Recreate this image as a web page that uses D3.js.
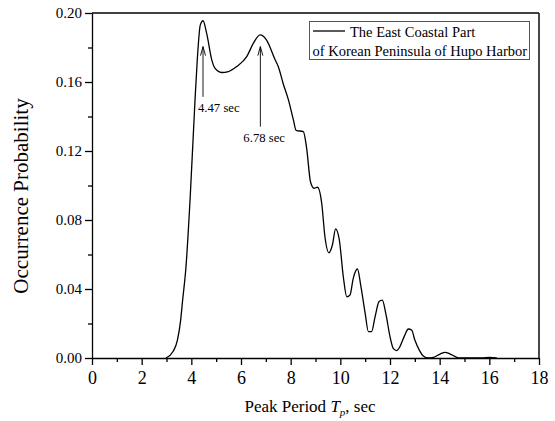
<!DOCTYPE html>
<html>
<head>
<meta charset="utf-8">
<script src="https://cdn.jsdelivr.net/npm/d3@7"></script>
<style>
  body { margin: 0; background: #fff; }
  svg, svg text { font-family: "Times New Roman", "Liberation Serif", Times, serif; fill: #000; }
  .axis path, .axis line { stroke: #000; stroke-width: 1.3; }
  .line { fill: none; stroke: #000; stroke-width: 1.3; }
</style>
</head>
<body>
<script>
// curve: peak period (sec) and occurrence probability
let periods = [2.98, 3.27, 3.44, 3.57, 3.65, 3.78, 3.95, 4.15, 4.24, 4.36, 4.47, 4.62, 4.82, 4.95,
  5.22, 5.49, 5.83, 6.23, 6.5, 6.77, 7.03, 7.37, 7.5, 7.7, 7.91, 8.11, 8.22, 8.51, 8.64, 8.8,
  8.94, 9.08, 9.25, 9.38, 9.54, 9.68, 9.81, 9.96, 10.12, 10.26, 10.39, 10.52, 10.69, 10.82,
  11.0, 11.13, 11.26, 11.4, 11.56, 11.69, 11.83, 12.0, 12.13, 12.27, 12.4, 12.57, 12.74, 12.87,
  13.0, 13.18, 13.34, 13.55, 13.75, 14.02, 14.22, 14.42, 14.69, 14.8, 15.7, 16.0, 16.3];
let probs = [0, 0.0039, 0.0104, 0.022, 0.0336, 0.052, 0.092, 0.15, 0.173, 0.193, 0.1955, 0.188, 0.173, 0.168,
  0.1655, 0.166, 0.169, 0.1747, 0.1825, 0.1873, 0.1843, 0.173, 0.169, 0.159, 0.1496, 0.138, 0.132, 0.1312, 0.122, 0.102,
  0.0984, 0.099, 0.0897, 0.0703, 0.061, 0.0655, 0.0748, 0.0684, 0.0471, 0.0355, 0.0365, 0.0462, 0.0516, 0.0423,
  0.0259, 0.0153, 0.0153, 0.024, 0.0327, 0.0336, 0.0259, 0.0124, 0.0056, 0.0043, 0.0066, 0.0124, 0.0168, 0.0162,
  0.0104, 0.0046, 0.0012, 0, 0.0004, 0.0023, 0.0033, 0.0023, 0.0004, 0, 0, 0.0004, 0];

let xTicks = [0, 2, 4, 6, 8, 10, 12, 14, 16, 18];
let yTicks = [0, 0.04, 0.08, 0.12, 0.16, 0.20];

// peak annotations: arrow x, arrow tip, arrow tail
let peakX = [4.47, 6.78];
let peakTip = [0.1805, 0.1805];
let peakTail = [0.1514, 0.1341];
let peakLabels = ["4.47 sec", "6.78 sec"];

let legendLines = ["The East Coastal Part", "of Korean Peninsula of Hupo Harbor"];

let svgWidth = 555;
let svgHeight = 421;
let chartMargin = { top: 13, right: 16, bottom: 63, left: 92 };
let chartWidth = svgWidth - chartMargin.left - chartMargin.right;
let chartHeight = svgHeight - chartMargin.top - chartMargin.bottom;

let svg = d3.select("body").append("svg")
  .attr("width", svgWidth)
  .attr("height", svgHeight);

let chartGroup = svg.append("g")
  .attr("transform", `translate(${chartMargin.left}, ${chartMargin.top})`);

let xScale = d3.scaleLinear().domain([0, 18]).range([0, chartWidth]);
let yScale = d3.scaleLinear().domain([0, 0.2]).range([chartHeight, 0]);

// minor ticks first
chartGroup.append("g")
  .classed("axis", true)
  .attr("transform", `translate(0, ${chartHeight})`)
  .call(d3.axisBottom(xScale).tickValues(d3.range(1, 18, 2)).tickSize(4).tickFormat(""))
  .select(".domain").remove();
chartGroup.append("g")
  .classed("axis", true)
  .call(d3.axisLeft(yScale).tickValues(d3.range(0.02, 0.2, 0.04)).tickSize(4).tickFormat(""))
  .select(".domain").remove();

// major axes
let xAxisG = chartGroup.append("g")
  .classed("axis", true)
  .attr("transform", `translate(0, ${chartHeight})`)
  .call(d3.axisBottom(xScale).tickValues(xTicks).tickSize(7).tickPadding(6).tickSizeOuter(0));
xAxisG.attr("font-family", null).attr("font-size", null);
xAxisG.selectAll("text").style("font-size", "18px");

let yAxisG = chartGroup.append("g")
  .classed("axis", true)
  .call(d3.axisLeft(yScale).tickValues(yTicks).tickSize(7).tickPadding(3).tickSizeOuter(0)
    .tickFormat(d3.format(".2f")));
yAxisG.attr("font-family", null).attr("font-size", null);
yAxisG.selectAll("text").style("font-size", "15px");

// frame on top and right
chartGroup.append("line")
  .attr("x1", 0).attr("x2", chartWidth).attr("y1", 0).attr("y2", 0)
  .attr("stroke", "#000").attr("stroke-width", 1.3);
chartGroup.append("line")
  .attr("x1", chartWidth).attr("x2", chartWidth).attr("y1", 0).attr("y2", chartHeight)
  .attr("stroke", "#333").attr("stroke-width", 1.8);

// the curve
let points = periods.map((p, i) => ({ x: p, y: probs[i] }));
let drawLine = d3.line()
  .x(d => xScale(d.x))
  .y(d => yScale(d.y))
  .curve(d3.curveMonotoneX);

chartGroup.append("path")
  .attr("d", drawLine(points))
  .classed("line", true);

// arrows with labels
peakX.forEach(function (px, i) {
  let ax = xScale(px);
  let tipY = yScale(peakTip[i]);
  let tailY = yScale(peakTail[i]);
  chartGroup.append("line")
    .attr("x1", ax).attr("x2", ax).attr("y1", tailY).attr("y2", tipY)
    .attr("stroke", "#000").attr("stroke-width", 0.9);
  chartGroup.append("path")
    .attr("d", `M${ax - 2.5},${tipY + 9}L${ax},${tipY}L${ax + 2.5},${tipY + 9}`)
    .attr("fill", "none").attr("stroke", "#000").attr("stroke-width", 0.9);
  chartGroup.append("text")
    .attr("x", ax + (i === 0 ? -5 : -17))
    .attr("y", tailY + 15)
    .style("font-size", "12.7px")
    .text(peakLabels[i]);
});

// legend
let legend = svg.append("g").attr("transform", "translate(309.5, 21.5)");
legend.append("rect")
  .attr("width", 220).attr("height", 38)
  .attr("fill", "#fff").attr("stroke", "#555").attr("stroke-width", 1);
legend.append("line")
  .attr("x1", 3.5).attr("x2", 35.5).attr("y1", 9.5).attr("y2", 9.5)
  .attr("stroke", "#000").attr("stroke-width", 1.3);
legend.append("text")
  .attr("x", 40.5).attr("y", 15)
  .style("font-size", "14.5px")
  .text(legendLines[0]);
legend.append("text")
  .attr("x", 3).attr("y", 34)
  .style("font-size", "14.5px")
  .text(legendLines[1]);

// axis titles
let xTitle = svg.append("text")
  .attr("x", 310)
  .attr("y", 411.5)
  .style("text-anchor", "middle")
  .style("font-size", "17px");
xTitle.append("tspan").text("Peak Period ");
xTitle.append("tspan").style("font-style", "italic").text("T");
xTitle.append("tspan").attr("dy", 4).style("font-size", "11px").style("font-style", "italic").text("p");
xTitle.append("tspan").attr("dy", -4).text(", sec");

svg.append("text")
  .attr("transform", "translate(28, 196) rotate(-90)")
  .style("text-anchor", "middle")
  .style("font-size", "21px")
  .text("Occurrence Probability");
</script>
</body>
</html>
